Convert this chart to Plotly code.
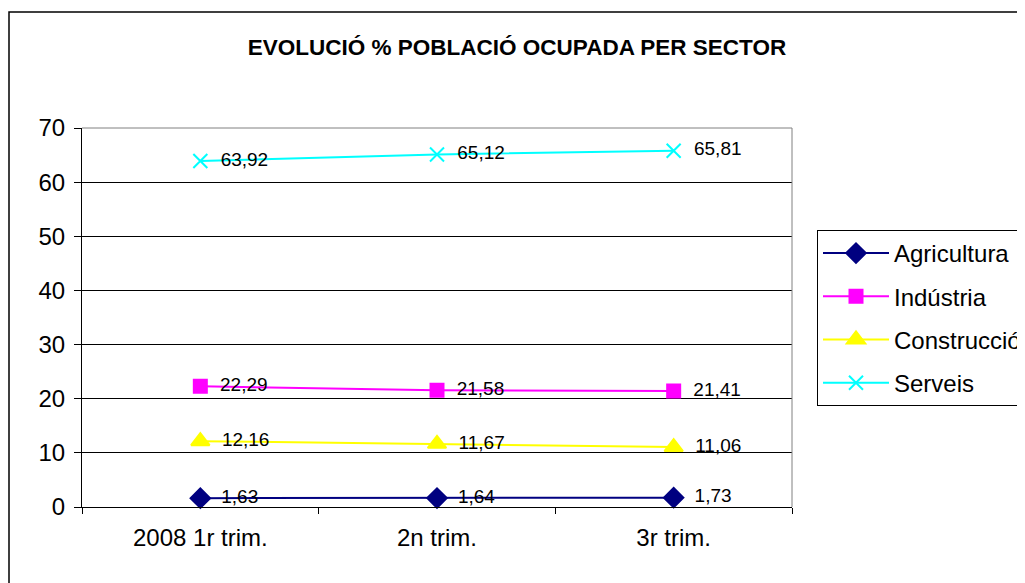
import plotly.graph_objects as go

categories = ["2008 1r trim.", "2n trim.", "3r trim."]
agricultura = [1.63, 1.64, 1.73]
industria = [22.29, 21.58, 21.41]
construccio = [12.16, 11.67, 11.06]
serveis = [63.92, 65.12, 65.81]

series = [
    ("Agricultura", agricultura, "#000080", "diamond", 15),
    ("Indústria", industria, "#FF00FF", "square", 13),
    ("Construcció", construccio, "#FFFF00", "triangle-up", 16),
    ("Serveis", serveis, "#00FFFF", "x-thin-open", 14),
]

def fmt(v):
    return "\u00a0\u00a0" + f"{v:.2f}".replace(".", ",")

fig = go.Figure()
for i, (name, vals, color, sym, size) in enumerate(series):
    fig.add_trace(go.Scatter(
        x=categories, y=vals, name=name, mode="lines+markers+text",
        line=dict(color=color, width=2),
        marker=dict(symbol=sym, size=size, color=color,
                    line=dict(color=color, width=2)),
        text=[fmt(v) for v in vals], textposition="middle right",
        textfont=dict(family="Liberation Sans, Arial", size=19, color="black"),
        legendgroup=name, cliponaxis=False,
    ))

# page offset of 8px (body margin)
OFF = 8
W, H = 1017, 575
L, T = 82 - OFF, 128 - OFF
R = W - (792 - OFF)
B = H - (507 - OFF)
pw, ph = W - L - R, H - T - B

def px(x):
    return (x - OFF - L) / pw

def py(y):
    return (H - B - (y - OFF)) / ph

fig.update_layout(
    width=W, height=H,
    margin=dict(l=L, r=R, t=T, b=B, autoexpand=False),
    paper_bgcolor="white", plot_bgcolor="white",
    font=dict(family="Liberation Sans, Arial", color="black"),
    title=dict(text="<b>EVOLUCIÓ % POBLACIÓ OCUPADA PER SECTOR</b>",
               x=(517 - OFF) / W, xref="container", xanchor="center",
               y=1 - (47 - OFF) / H, yanchor="middle",
               font=dict(size=22.5, family="Liberation Sans, Arial")),
    xaxis=dict(type="category", tickson="boundaries", ticks="outside", ticklen=6,
               tickcolor="black", showline=True, linecolor="black", linewidth=1,
               showgrid=False, tickfont=dict(size=24), ticklabelstandoff=9,
               range=[-0.5, 2.5]),
    yaxis=dict(range=[0, 70], dtick=10, ticks="outside", ticklen=7, tickcolor="black",
               showline=True, linecolor="black", linewidth=1,
               showgrid=True, gridcolor="#000000", gridwidth=1,
               tickfont=dict(size=24), zeroline=False, ticklabelstandoff=4),
    legend=dict(x=px(817), y=py(230), xanchor="left", yanchor="top",
                bordercolor="black", borderwidth=1, bgcolor="white",
                font=dict(size=24), tracegroupgap=9, traceorder="grouped",
                itemwidth=66),
    shapes=[
        dict(type="line", xref="paper", yref="paper",
             x0=1, x1=1, y0=0, y1=1,
             line=dict(color="#808080", width=1)),
        dict(type="line", xref="paper", yref="paper",
             x0=0, x1=1, y0=1, y1=1,
             line=dict(color="#808080", width=1)),
        dict(type="rect", xref="paper", yref="paper",
             x0=px(9), x1=px(1060), y0=py(12), y1=py(620),
             line=dict(color="black", width=1.5), layer="below"),
    ],
)

fig.write_html("out.html")
